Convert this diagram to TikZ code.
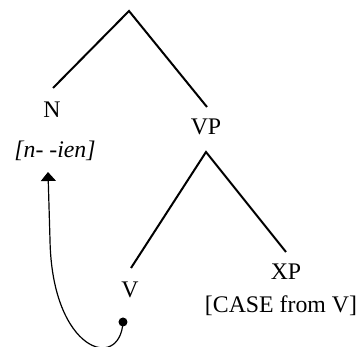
\documentclass[tikz,border=0pt]{standalone}
\usepackage{fontspec}
\setmainfont{Liberation Serif}
\usetikzlibrary{arrows.meta}
\begin{document}
\begin{tikzpicture}[x=1pt,y=-1pt,
  lbl/.style={inner sep=0pt,font=\fontsize{23.8}{28}\selectfont},
  branch/.style={line width=2pt},
  mv/.style={line width=1.2pt}]
\useasboundingbox (0,0) rectangle (360,347);
% labels
\node[lbl] (N) at (52,110) {N};
\node[lbl] (nfeat) at (55,151) {\itshape [n- -ien]};
\node[lbl] (VP) at (206,126.5) {VP};
\node[lbl] (V) at (130,289.5) {V};
\node[lbl] (XP) at (286,272) {XP};
\node[lbl] (case) at (281,306) {[CASE from V]};
% tree coordinates
\coordinate (top) at (129,11);
\coordinate (nl) at (53,88);
\coordinate (vpl) at (207,107);
\coordinate (vptop) at (206,152);
\coordinate (vl) at (131,268);
\coordinate (xpl) at (286,252);
\draw[branch] (nl) -- (top) -- (vpl);
\draw[branch] (vl) -- (vptop) -- (xpl);
% movement arrow
\coordinate (dot) at (123,322);
\coordinate (turn) at (50,240);
\coordinate (tip) at (48,172);
\fill (dot) circle (4.5);
\draw[mv,-{Triangle[width=15pt,length=9pt]}] (dot) .. controls (120,372) and (52,352) .. (turn) -- (tip);
\end{tikzpicture}
\end{document}
